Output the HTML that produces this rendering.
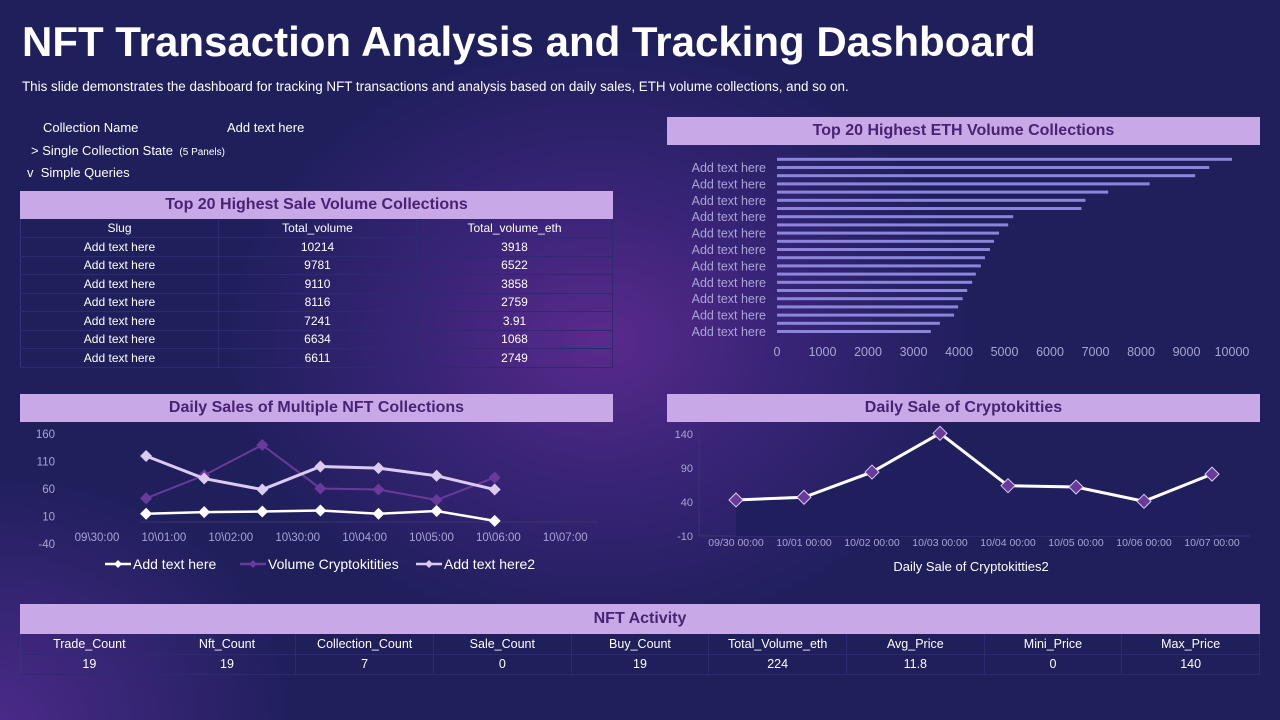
<!DOCTYPE html>
<html><head><meta charset="utf-8">
<style>
*{margin:0;padding:0;box-sizing:border-box}
body{width:1280px;height:720px;overflow:hidden;font-family:"Liberation Sans",sans-serif;color:#fff;
background:radial-gradient(ellipse 380px 300px at 600px 340px,#5a2a8c 0%,#3a2478 45%,rgba(31,31,92,0) 100%),radial-gradient(ellipse 300px 250px at 0px 720px,#4a2a88,rgba(31,31,92,0)),#1f1f5c;position:relative}
.abs{position:absolute}
.hdr{position:absolute;background:#c8a8e6;color:#4a2274;font-weight:bold;font-size:16px;text-align:center;line-height:28px;height:28px}
table{border-collapse:collapse;font-size:12px}
td,th{font-weight:normal;text-align:center;height:18.5px;border-bottom:1px solid #2c2a70;border-right:1px solid #2c2a70}
</style></head><body>
<div class="abs" style="left:22px;top:18px;font-size:42px;font-weight:bold;letter-spacing:0px">NFT Transaction Analysis and Tracking Dashboard</div>
<div class="abs" style="left:22px;top:79px;font-size:13.4px">This slide demonstrates the dashboard for tracking NFT transactions and analysis based on daily sales, ETH volume  collections, and so on.</div>
<div class="abs" style="left:43px;top:120px;font-size:13px">Collection Name</div>
<div class="abs" style="left:227px;top:120px;font-size:13px">Add text here</div>
<div class="abs" style="left:31px;top:143px;font-size:13px">&gt; Single Collection State <span style="font-size:10px">&nbsp;(5 Panels)</span></div>
<div class="abs" style="left:27px;top:165px;font-size:13px">v&nbsp; Simple Queries</div>

<div class="hdr" style="left:20px;top:191px;width:593px">Top 20 Highest Sale Volume Collections</div>
<table class="abs" style="left:20px;top:219px;width:593px;border-left:1px solid #3a3480;border-bottom:1px solid #5a4a9a">
<tr><th style="width:198px">Slug</th><th style="width:198px">Total_volume</th><th>Total_volume_eth</th></tr>
<tr><td>Add text here</td><td>10214</td><td>3918</td></tr>
<tr><td>Add text here</td><td>9781</td><td>6522</td></tr>
<tr><td>Add text here</td><td>9110</td><td>3858</td></tr>
<tr><td>Add text here</td><td>8116</td><td>2759</td></tr>
<tr><td>Add text here</td><td>7241</td><td>3.91</td></tr>
<tr><td>Add text here</td><td>6634</td><td>1068</td></tr>
<tr><td>Add text here</td><td>6611</td><td>2749</td></tr>
</table>

<div class="hdr" style="left:667px;top:117px;width:593px">Top 20 Highest ETH Volume Collections</div>
<div class="hdr" style="left:20px;top:394px;width:593px">Daily Sales of Multiple NFT Collections</div>
<div class="hdr" style="left:667px;top:394px;width:593px">Daily Sale of Cryptokitties</div>

<svg class="abs" style="left:0;top:0" width="1280" height="720" id="svg"></svg>

<div class="hdr" style="left:20px;top:604px;width:1240px;height:30px;line-height:30px">NFT Activity</div>
<table class="abs" style="left:20px;top:634px;width:1240px;font-size:12.5px;border-left:1px solid #3a3480">
<tr id="actH"></tr><tr id="actV"></tr>
</table>

<script>
const barLabels=["Add text here","Add text here","Add text here","Add text here","Add text here","Add text here","Add text here","Add text here","Add text here","Add text here","Add text here"];
const barValues=[10000,9500,9190,8190,7280,6780,6690,5190,5080,4880,4770,4680,4570,4480,4370,4290,4180,4080,3980,3890,3580,3380];
const barTicks=[0,1000,2000,3000,4000,5000,6000,7000,8000,9000,10000];
const lineCats=["09\\30:00","10\\01:00","10\\02:00","10\\30:00","10\\04:00","10\\05:00","10\\06:00","10\\07:00"];
const lineTicks=[160,110,60,10,-40];
const seriesA=[null,15,18,19,21,15,20,2];
const seriesVol=[null,43,85,140,61,59,40,81];
const seriesB=[null,120,79,59,101,98,84,59];
const kittyCats=["09/30 00:00","10/01 00:00","10/02 00:00","10/03 00:00","10/04 00:00","10/05 00:00","10/06 00:00","10/07 00:00"];
const kittyTicks=[140,90,40,-10];
const kittyValues=[43,47,84,141,64,62,41,81];
const actHeads=["Trade_Count","Nft_Count","Collection_Count","Sale_Count","Buy_Count","Total_Volume_eth","Avg_Price","Mini_Price","Max_Price"];
const actVals=["19","19","7","0","19","224","11.8","0","140"];

const NS="http://www.w3.org/2000/svg",svg=document.getElementById('svg');
function mk(t,a,txt){const e=document.createElementNS(NS,t);for(const k in a)e.setAttribute(k,a[k]);if(txt!=null)e.textContent=txt;svg.appendChild(e);return e;}

// bar chart
const bx=v=>777+v*0.0455, by=i=>159.3+i*8.2;
barValues.forEach((v,i)=>{const r=mk('rect',{x:bx(0),y:by(i)-1.5,width:bx(v)-bx(0),height:3,fill:'#8b86dc'});
});
barLabels.forEach((l,i)=>{const t=mk('text',{x:766,y:172+i*16.4,'text-anchor':'end','font-size':12.5,fill:'#a9a4d6'},l);
});
barTicks.forEach(v=>{const t=mk('text',{x:bx(v),y:356,'text-anchor':'middle','font-size':12.5,fill:'#a9a4d6'},v);
});

// multi line chart
const lx=i=>88+i*58.1, ly=v=>434+(160-v)*0.55, labX=i=>97+i*66.9;
lineTicks.forEach(v=>{const t=mk('text',{x:55,y:ly(v)+4,'text-anchor':'end','font-size':11.5,fill:'#a9a4d6'},v);
});
lineCats.forEach((c,i)=>{const t=mk('text',{x:labX(i),y:541,'text-anchor':'middle','font-size':11.5,fill:'#a9a4d6'},c);
});
mk('line',{x1:140,x2:598,y1:ly(0),y2:ly(0),stroke:'#3a3470','stroke-width':1});
function series(d,col,w,name){const pts=d.map((v,i)=>v==null?null:[lx(i),ly(v)]).filter(p=>p);
const p=mk('polyline',{points:pts.map(q=>q.join(',')).join(' '),fill:'none',stroke:col,'stroke-width':w});

pts.forEach(q=>{const m=mk('path',{d:`M${q[0]} ${q[1]-6}l6 6l-6 6l-6-6z`,fill:col});
});}
series(seriesVol,'#6a3a9a',2,'volume-cryptokitties');
series(seriesB,'#dccbf0',3,'add-text-here2');
series(seriesA,'#ffffff',2.5,'add-text-here');
// legend
const leg=[['#ffffff','Add text here',105],['#6a3a9a','Volume Cryptokitities',240],['#dccbf0','Add text here2',416]];
leg.forEach(([c,l,x])=>{mk('line',{x1:x,x2:x+26,y1:564,y2:564,stroke:c,'stroke-width':2.5});
mk('path',{d:`M${x+13} 560l4 4l-4 4l-4-4z`,fill:c});
const t=mk('text',{x:x+28,y:569,'font-size':14,fill:'#fff'},l);
});

// cryptokitties chart
const kx=i=>736+i*68, ky=v=>434+(140-v)*0.68;
kittyTicks.forEach(v=>{const t=mk('text',{x:693,y:ky(v)+4,'text-anchor':'end','font-size':11,fill:'#a9a4d6'},v);
});
mk('line',{x1:699,x2:699,y1:434,y2:ky(-10),stroke:'#3a3470'});
mk('line',{x1:699,x2:1250,y1:ky(-10),y2:ky(-10),stroke:'#3a3470'});
const kp=kittyValues.map((v,i)=>[kx(i),ky(v)]);
const area=mk('polygon',{points:[[kx(0),ky(-10)],...kp,[kx(kp.length-1),ky(-10)]].map(q=>q.join(',')).join(' '),fill:'#1f1f5e'});

const kl=mk('polyline',{points:kp.map(q=>q.join(',')).join(' '),fill:'none',stroke:'#fff','stroke-width':3});

kp.forEach(q=>{const m=mk('path',{d:`M${q[0]} ${q[1]-7}l7 7l-7 7l-7-7z`,fill:'#6a3a9a',stroke:'#dccbf0','stroke-width':1});
});
kittyCats.forEach((c,i)=>{const t=mk('text',{x:kx(i),y:546,'text-anchor':'middle','font-size':10.5,fill:'#a9a4d6'},c);
});
const kt=mk('text',{x:971,y:571,'text-anchor':'middle','font-size':13,fill:'#fff'},'Daily Sale of Cryptokitties2');


// activity table
const H=document.getElementById('actH'),V=document.getElementById('actV');
actHeads.forEach(h=>{const c=document.createElement('td');c.textContent=h;c.style.height='20px';c.style.width=(1240/9)+'px';
H.appendChild(c);});
actVals.forEach(v=>{const c=document.createElement('td');c.textContent=v;c.style.height='20px';
V.appendChild(c);});
</script>
</body></html>
